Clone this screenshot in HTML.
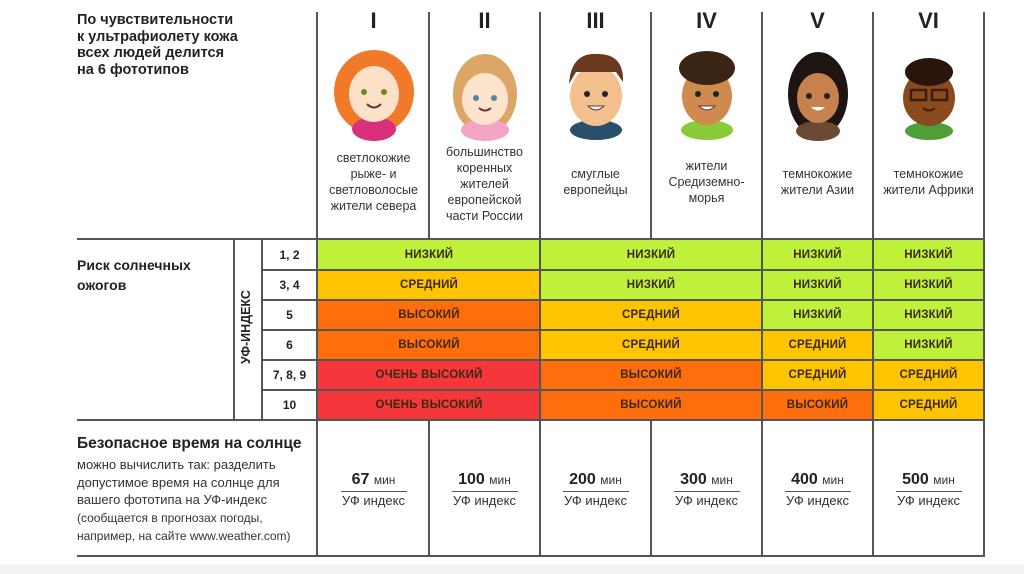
<!DOCTYPE html>
<html><head><meta charset="utf-8"><style>
*{margin:0;padding:0;box-sizing:border-box}
body{width:1024px;height:574px;background:#fff;position:relative;overflow:hidden;font-family:"Liberation Sans","DejaVu Sans",sans-serif;color:#222}
.a{position:absolute}
.h{background:#555;height:2px}
.v{background:#555;width:2px}
.c{position:absolute;display:flex;align-items:center;justify-content:center;font-size:11.5px;font-weight:bold;color:#3a2a10;letter-spacing:.2px}
.t{position:absolute;text-align:center;font-size:12.5px;line-height:16px;color:#333}
.r{position:absolute;text-align:center;font-size:22px;font-weight:bold;top:8px;color:#222}
.n{position:absolute;text-align:center;font-size:12px;font-weight:bold;color:#222}
.f{position:absolute;top:471px;text-align:center;width:111px}
.f b{font-size:16px}
.f span{font-size:12px;color:#333}
.f div{margin:2px auto 0;width:66px;border-top:1.5px solid #555;font-size:13px;padding-top:1px;color:#333}
</style></head><body>
<div class="a" style="left:0;top:565px;width:1024px;height:9px;background:#f2f2f2"></div>
<div class="a" style="left:77px;top:12px;font-size:14.5px;font-weight:bold;line-height:16.5px;color:#222">По чувствительности<br>к ультрафиолету кожа<br>всех людей делится<br>на 6 фототипов</div>
<div class="a" style="left:77px;top:255px;font-size:14px;font-weight:bold;line-height:20px">Риск солнечных<br>ожогов</div>
<div class="a" style="left:77px;top:435px;font-size:15.5px;font-weight:bold">Безопасное время на солнце</div>
<div class="a" style="left:77px;top:456px;font-size:13px;line-height:17.5px;color:#333">можно вычислить так: разделить<br>допустимое время на солнце для<br>вашего фототипа на УФ-индекс<br><span style="font-size:12px">(сообщается в прогнозах погоды,<br>например, на сайте www.weather.com)</span></div>
<div class="a" style="left:176px;top:320px;width:140px;text-align:center;transform:rotate(-90deg);font-size:12.5px;font-weight:bold">УФ-ИНДЕКС</div>

<div class="c" style="left:318px;top:240px;width:222px;height:30px;background:#bff03a">НИЗКИЙ</div>
<div class="c" style="left:318px;top:270px;width:222px;height:30px;background:#ffc400">СРЕДНИЙ</div>
<div class="c" style="left:318px;top:300px;width:222px;height:30px;background:#ff6e0c">ВЫСОКИЙ</div>
<div class="c" style="left:318px;top:330px;width:222px;height:30px;background:#ff6e0c">ВЫСОКИЙ</div>
<div class="c" style="left:318px;top:360px;width:222px;height:30px;background:#f5363a">ОЧЕНЬ ВЫСОКИЙ</div>
<div class="c" style="left:318px;top:390px;width:222px;height:30px;background:#f5363a">ОЧЕНЬ ВЫСОКИЙ</div>
<div class="c" style="left:540px;top:240px;width:222px;height:30px;background:#bff03a">НИЗКИЙ</div>
<div class="c" style="left:540px;top:270px;width:222px;height:30px;background:#bff03a">НИЗКИЙ</div>
<div class="c" style="left:540px;top:300px;width:222px;height:30px;background:#ffc400">СРЕДНИЙ</div>
<div class="c" style="left:540px;top:330px;width:222px;height:30px;background:#ffc400">СРЕДНИЙ</div>
<div class="c" style="left:540px;top:360px;width:222px;height:30px;background:#ff6e0c">ВЫСОКИЙ</div>
<div class="c" style="left:540px;top:390px;width:222px;height:30px;background:#ff6e0c">ВЫСОКИЙ</div>
<div class="c" style="left:762px;top:240px;width:111px;height:30px;background:#bff03a">НИЗКИЙ</div>
<div class="c" style="left:762px;top:270px;width:111px;height:30px;background:#bff03a">НИЗКИЙ</div>
<div class="c" style="left:762px;top:300px;width:111px;height:30px;background:#bff03a">НИЗКИЙ</div>
<div class="c" style="left:762px;top:330px;width:111px;height:30px;background:#ffc400">СРЕДНИЙ</div>
<div class="c" style="left:762px;top:360px;width:111px;height:30px;background:#ffc400">СРЕДНИЙ</div>
<div class="c" style="left:762px;top:390px;width:111px;height:30px;background:#ff6e0c">ВЫСОКИЙ</div>
<div class="c" style="left:873px;top:240px;width:111px;height:30px;background:#bff03a">НИЗКИЙ</div>
<div class="c" style="left:873px;top:270px;width:111px;height:30px;background:#bff03a">НИЗКИЙ</div>
<div class="c" style="left:873px;top:300px;width:111px;height:30px;background:#bff03a">НИЗКИЙ</div>
<div class="c" style="left:873px;top:330px;width:111px;height:30px;background:#bff03a">НИЗКИЙ</div>
<div class="c" style="left:873px;top:360px;width:111px;height:30px;background:#ffc400">СРЕДНИЙ</div>
<div class="c" style="left:873px;top:390px;width:111px;height:30px;background:#ffc400">СРЕДНИЙ</div>

<div class="n" style="left:262px;top:248px;width:55px">1, 2</div>
<div class="n" style="left:262px;top:278px;width:55px">3, 4</div>
<div class="n" style="left:262px;top:308px;width:55px">5</div>
<div class="n" style="left:262px;top:338px;width:55px">6</div>
<div class="n" style="left:262px;top:368px;width:55px">7, 8, 9</div>
<div class="n" style="left:262px;top:398px;width:55px">10</div>

<div class="a h" style="left:77px;top:238px;width:908px"></div>
<div class="a h" style="left:262px;top:269px;width:722px"></div>
<div class="a h" style="left:262px;top:299px;width:722px"></div>
<div class="a h" style="left:262px;top:329px;width:722px"></div>
<div class="a h" style="left:262px;top:359px;width:722px"></div>
<div class="a h" style="left:262px;top:389px;width:722px"></div>
<div class="a h" style="left:77px;top:419px;width:908px"></div>
<div class="a h" style="left:77px;top:555px;width:908px"></div>
<div class="a v" style="left:233px;top:239px;height:181px"></div>
<div class="a v" style="left:261px;top:239px;height:181px"></div>
<div class="a v" style="left:316px;top:12px;height:544px"></div>
<div class="a v" style="left:428px;top:12px;height:228px"></div>
<div class="a v" style="left:428px;top:420px;height:136px"></div>
<div class="a v" style="left:539px;top:12px;height:544px"></div>
<div class="a v" style="left:650px;top:12px;height:228px"></div>
<div class="a v" style="left:650px;top:420px;height:136px"></div>
<div class="a v" style="left:761px;top:12px;height:544px"></div>
<div class="a v" style="left:872px;top:12px;height:544px"></div>
<div class="a v" style="left:983px;top:12px;height:544px"></div>

<div class="r" style="left:318px;width:111px">I</div>
<div class="r" style="left:429px;width:111px">II</div>
<div class="r" style="left:540px;width:111px">III</div>
<div class="r" style="left:651px;width:111px">IV</div>
<div class="r" style="left:762px;width:111px">V</div>
<div class="r" style="left:873px;width:111px">VI</div>

<svg class="a" style="left:318px;top:44px" width="666" height="100">
<g transform="translate(56,0)">
<ellipse cx="0" cy="48" rx="40" ry="42" fill="#f07a2a"/><ellipse cx="0" cy="85" rx="22" ry="12" fill="#d8307a"/><ellipse cx="0" cy="50" rx="25" ry="28" fill="#fde0c8"/><circle cx="-10" cy="48" r="3" fill="#6a8a20"/><circle cx="10" cy="48" r="3" fill="#6a8a20"/><path d="M-7 60 Q0 67 7 60" stroke="#633" stroke-width="2" fill="none"/></g>
<g transform="translate(167,0)">
<ellipse cx="0" cy="50" rx="32" ry="40" fill="#dba666"/><ellipse cx="0" cy="86" rx="24" ry="11" fill="#f4a4c4"/><ellipse cx="0" cy="55" rx="23" ry="26" fill="#fde2cc"/><circle cx="-9" cy="54" r="3" fill="#4a8aa0"/><circle cx="9" cy="54" r="3" fill="#4a8aa0"/><path d="M-6 64 Q0 69 6 64" stroke="#633" stroke-width="2" fill="none"/></g>
<g transform="translate(278,0)">
<ellipse cx="0" cy="86" rx="26" ry="10" fill="#2a4f6a"/><ellipse cx="0" cy="52" rx="26" ry="30" fill="#f3c08e"/><path d="M-27 40 Q-25 8 2 10 Q28 10 27 38 L20 28 L-20 28 Z" fill="#6b3a1e"/><circle cx="-9" cy="50" r="3" fill="#222"/><circle cx="9" cy="50" r="3" fill="#222"/><path d="M-8 62 Q0 70 8 62 Z" fill="#fff" stroke="#633"/></g>
<g transform="translate(389,0)">
<ellipse cx="0" cy="86" rx="26" ry="10" fill="#8acb3a"/><ellipse cx="0" cy="52" rx="25" ry="29" fill="#d18a4e"/><ellipse cx="0" cy="24" rx="28" ry="17" fill="#3a2414"/><circle cx="-9" cy="50" r="3" fill="#222"/><circle cx="9" cy="50" r="3" fill="#222"/><path d="M-8 62 Q0 70 8 62 Z" fill="#fff" stroke="#633"/></g>
<g transform="translate(500,0)">
<ellipse cx="0" cy="50" rx="30" ry="42" fill="#1e1512"/><ellipse cx="0" cy="87" rx="22" ry="10" fill="#6b4a33"/><ellipse cx="0" cy="54" rx="21" ry="25" fill="#c7814e"/><circle cx="-9" cy="52" r="3" fill="#222"/><circle cx="9" cy="52" r="3" fill="#222"/><path d="M-7 63 Q0 70 7 63 Z" fill="#fff"/></g>
<g transform="translate(611,0)">
<ellipse cx="0" cy="87" rx="24" ry="9" fill="#4ea036"/><ellipse cx="0" cy="54" rx="26" ry="28" fill="#8a4a1e"/><ellipse cx="0" cy="28" rx="24" ry="14" fill="#2a150a"/><rect x="-18" y="46" width="15" height="10" fill="none" stroke="#3a1e0e" stroke-width="2.5"/><rect x="3" y="46" width="15" height="10" fill="none" stroke="#3a1e0e" stroke-width="2.5"/><path d="M-6 64 Q0 69 6 64" stroke="#3a1e0e" stroke-width="2" fill="none"/></g>
</svg>

<div class="t" style="left:318px;top:150px;width:111px">светлокожие<br>рыже- и<br>светловолосые<br>жители севера</div>
<div class="t" style="left:429px;top:144px;width:111px">большинство<br>коренных<br>жителей<br>европейской<br>части России</div>
<div class="t" style="left:540px;top:166px;width:111px">смуглые<br>европейцы</div>
<div class="t" style="left:651px;top:158px;width:111px">жители<br>Средиземно-<br>морья</div>
<div class="t" style="left:762px;top:166px;width:111px">темнокожие<br>жители Азии</div>
<div class="t" style="left:873px;top:166px;width:111px">темнокожие<br>жители Африки</div>

<div class="f" style="left:318px"><b>67</b> <span>мин</span><div>УФ индекс</div></div>
<div class="f" style="left:429px"><b>100</b> <span>мин</span><div>УФ индекс</div></div>
<div class="f" style="left:540px"><b>200</b> <span>мин</span><div>УФ индекс</div></div>
<div class="f" style="left:651px"><b>300</b> <span>мин</span><div>УФ индекс</div></div>
<div class="f" style="left:762px"><b>400</b> <span>мин</span><div>УФ индекс</div></div>
<div class="f" style="left:873px"><b>500</b> <span>мин</span><div>УФ индекс</div></div>
</body></html>
